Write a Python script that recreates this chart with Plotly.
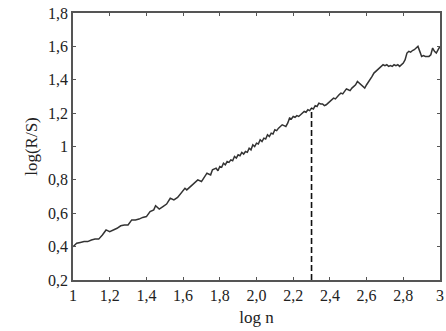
import plotly.graph_objects as go

log_n = [1.00, 1.02, 1.04, 1.06, 1.08, 1.10, 1.12, 1.14, 1.16, 1.18, 1.20, 1.22, 1.24, 1.26,
         1.28, 1.30, 1.32, 1.34, 1.36, 1.38, 1.40, 1.42, 1.44, 1.45, 1.47, 1.49, 1.51, 1.53,
         1.55, 1.57, 1.59, 1.61, 1.62, 1.64, 1.66, 1.68, 1.70, 1.72, 1.73, 1.75, 1.76, 1.78,
         1.79, 1.80, 1.81, 1.82, 1.83, 1.84, 1.85, 1.86, 1.87, 1.88, 1.89, 1.90, 1.91, 1.92,
         1.93, 1.94, 1.95, 1.96, 1.97, 1.98, 1.99, 2.00, 2.01, 2.02, 2.03, 2.04, 2.05, 2.06,
         2.07, 2.08, 2.09, 2.10, 2.11, 2.12, 2.13, 2.14, 2.15, 2.16, 2.17, 2.18, 2.19, 2.20,
         2.21, 2.22, 2.23, 2.24, 2.25, 2.26, 2.27, 2.28, 2.29, 2.30, 2.31, 2.32, 2.33, 2.34,
         2.35, 2.36, 2.37, 2.38, 2.39, 2.40, 2.41, 2.42, 2.43, 2.44, 2.45, 2.46, 2.47, 2.48,
         2.49, 2.50, 2.51, 2.52, 2.53, 2.54, 2.55, 2.56, 2.57, 2.58, 2.59, 2.60, 2.61, 2.62,
         2.63, 2.64, 2.65, 2.66, 2.67, 2.68, 2.69, 2.70, 2.71, 2.72, 2.73, 2.74, 2.75, 2.76,
         2.77, 2.78, 2.79, 2.80, 2.81, 2.82, 2.83, 2.84, 2.85, 2.86, 2.87, 2.88, 2.89, 2.90,
         2.91, 2.92, 2.93, 2.94, 2.95, 2.96, 2.97, 2.98, 2.99, 3.00]
log_rs = [0.40, 0.42, 0.425, 0.43, 0.43, 0.44, 0.445, 0.445, 0.47, 0.50, 0.49, 0.50, 0.51, 0.525,
          0.53, 0.53, 0.56, 0.56, 0.565, 0.575, 0.58, 0.61, 0.62, 0.645, 0.625, 0.64, 0.655, 0.69,
          0.68, 0.695, 0.72, 0.75, 0.74, 0.76, 0.785, 0.80, 0.79, 0.82, 0.84, 0.83, 0.86, 0.87,
          0.855, 0.88, 0.875, 0.90, 0.89, 0.91, 0.905, 0.92, 0.915, 0.94, 0.93, 0.95, 0.945, 0.965,
          0.955, 0.97, 0.965, 0.99, 0.98, 1.01, 1.00, 1.02, 1.015, 1.04, 1.03, 1.05, 1.045, 1.07,
          1.06, 1.08, 1.075, 1.10, 1.095, 1.11, 1.12, 1.13, 1.125, 1.12, 1.14, 1.17, 1.165, 1.18,
          1.175, 1.185, 1.18, 1.19, 1.20, 1.21, 1.205, 1.22, 1.215, 1.23, 1.225, 1.245, 1.24, 1.26,
          1.255, 1.255, 1.245, 1.25, 1.26, 1.27, 1.285, 1.29, 1.285, 1.30, 1.31, 1.32, 1.315, 1.33,
          1.345, 1.34, 1.335, 1.35, 1.36, 1.37, 1.39, 1.38, 1.37, 1.36, 1.35, 1.37, 1.385, 1.40,
          1.42, 1.44, 1.45, 1.46, 1.47, 1.48, 1.49, 1.485, 1.49, 1.48, 1.485, 1.48, 1.49, 1.485,
          1.49, 1.48, 1.49, 1.50, 1.52, 1.56, 1.57, 1.565, 1.575, 1.58, 1.59, 1.60, 1.57, 1.54,
          1.545, 1.54, 1.54, 1.54, 1.55, 1.59, 1.57, 1.56, 1.58, 1.60]

marker_x = [2.3, 2.3]
marker_y = [0.2, 1.23]

x_ticks = [1.0, 1.2, 1.4, 1.6, 1.8, 2.0, 2.2, 2.4, 2.6, 2.8, 3.0]
x_labels = ["1", "1,2", "1,4", "1,6", "1,8", "2,0", "2,2", "2,4", "2,6", "2,8", "3"]
y_ticks = [0.2, 0.4, 0.6, 0.8, 1.0, 1.2, 1.4, 1.6, 1.8]
y_labels = ["0,2", "0,4", "0,6", "0,8", "1", "1,2", "1,4", "1,6", "1,8"]

font = dict(family="Liberation Serif, DejaVu Serif, serif", size=16, color="#222")
title_font = dict(family="Liberation Serif, DejaVu Serif, serif", size=17, color="#222")

fig = go.Figure()
fig.add_trace(go.Scatter(x=log_n, y=log_rs, mode="lines",
                         line=dict(color="#333", width=1.5), showlegend=False, cliponaxis=False))
fig.add_trace(go.Scatter(x=marker_x, y=marker_y, mode="lines",
                         line=dict(color="#111", width=1.6, dash="6px,3px"), showlegend=False))

axis_common = dict(showgrid=False, zeroline=False, showline=True, linecolor="#555",
                   linewidth=1.6, mirror="allticks", ticks="inside", ticklen=3,
                   tickcolor="#555", tickwidth=1, tickfont=font, automargin=False)

fig.update_layout(
    width=446, height=331,
    margin=dict(l=73, r=6, t=13, b=51),
    paper_bgcolor="white", plot_bgcolor="white",
    font=font,
    xaxis=dict(range=[0.9999, 3.0001], tickvals=x_ticks, ticktext=x_labels,
               title=dict(text="log n", font=title_font, standoff=8), **axis_common),
    yaxis=dict(range=[0.2, 1.8], tickvals=y_ticks, ticktext=y_labels,
               title=dict(text="log(R/S)", font=title_font, standoff=6), **axis_common),
)

fig.write_html("out.html", config={"displayModeBar": False},
               post_script="document.body.style.margin='0';document.body.style.padding='0';")
